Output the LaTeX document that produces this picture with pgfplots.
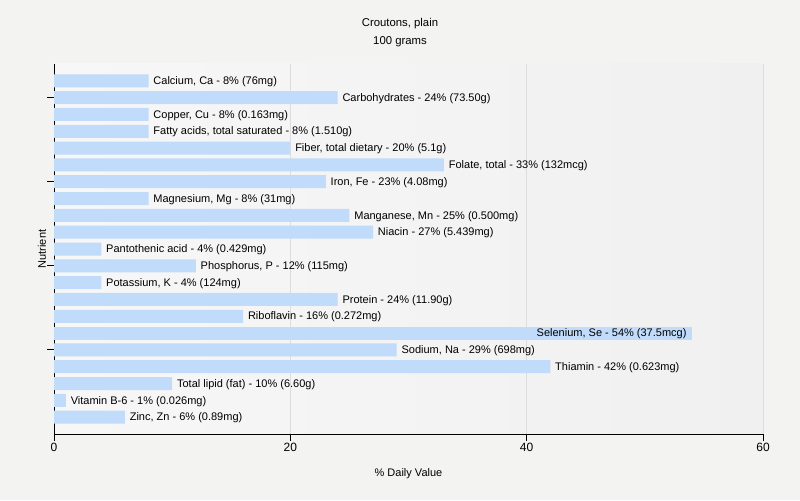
\documentclass[border=0pt]{standalone}
\usepackage{fontspec}
\setmainfont{Liberation Sans}
\usepackage{pgfplots}
\usepackage{pgfplotstable}
\pgfplotsset{compat=1.18}
\definecolor{barblue}{RGB}{193,219,250}
\definecolor{outerbg}{RGB}{243,243,242}
\definecolor{gridc}{RGB}{221,221,221}
\definecolor{plotleft}{RGB}{247,247,247}
\definecolor{plotright}{RGB}{240,240,240}

\pgfplotstableread[col sep=semicolon]{
idx;val;label
0;8;Calcium, Ca - 8\% (76mg)
1;24;Carbohydrates - 24\% (73.50g)
2;8;Copper, Cu - 8\% (0.163mg)
3;8;Fatty acids, total saturated - 8\% (1.510g)
4;20;Fiber, total dietary - 20\% (5.1g)
5;33;Folate, total - 33\% (132mcg)
6;23;Iron, Fe - 23\% (4.08mg)
7;8;Magnesium, Mg - 8\% (31mg)
8;25;Manganese, Mn - 25\% (0.500mg)
9;27;Niacin - 27\% (5.439mg)
10;4;Pantothenic acid - 4\% (0.429mg)
11;12;Phosphorus, P - 12\% (115mg)
12;4;Potassium, K - 4\% (124mg)
13;24;Protein - 24\% (11.90g)
14;16;Riboflavin - 16\% (0.272mg)
16;29;Sodium, Na - 29\% (698mg)
17;42;Thiamin - 42\% (0.623mg)
18;10;Total lipid (fat) - 10\% (6.60g)
19;1;Vitamin B-6 - 1\% (0.026mg)
20;6;Zinc, Zn - 6\% (0.89mg)
}\maindata

\pgfplotstableread[col sep=semicolon]{
idx;val;label
15;54;Selenium, Se - 54\% (37.5mcg)
}\seldata

\begin{document}
\begin{tikzpicture}[x=1pt,y=1pt]
\path[use as bounding box, fill=outerbg] (0,0) rectangle (600,375);
\shade[left color=plotleft, middle color=white, right color=plotright] (40.5,49.5) rectangle (572.25,327);
\node[font=\fontsize{8.5}{10}\selectfont] at (300,357.5) {Croutons, plain};
\node[font=\fontsize{8.5}{10}\selectfont] at (300,344) {100 grams};
\begin{axis}[
  at={(40.5pt,49.5pt)}, anchor=south west,
  width=531.75pt, height=277.5pt, scale only axis,
  xmin=0, xmax=60, ymin=-1, ymax=21, y dir=reverse,
  xbar, bar width=9.75pt, bar shift=0pt,
  axis x line*=bottom, axis y line*=left,
  axis line style={black, line width=0.75pt},
  tick align=outside, major tick length=5.25pt,
  tick style={black, line width=0.75pt},
  xtick={0,20,40,60},
  ytick={1,6,11,16}, yticklabels={},
  xmajorgrids, grid style={gridc, line width=0.75pt},
  xticklabel style={font=\fontsize{9}{10}\selectfont, yshift=2pt, /pgf/number format/assume math mode=true},
  xlabel={\% Daily Value}, ylabel={Nutrient},
  label style={font=\fontsize{8.25}{10}\selectfont},
  xlabel style={at={(axis description cs:0.5,-0.1068)}, anchor=center},
  ylabel style={at={(axis description cs:-0.01693,0.5)}, anchor=center},
  point meta=explicit symbolic,
  clip=false,
]
\addplot[fill=barblue, draw=none, nodes near coords,
  every node near coord/.append style={anchor=west, inner sep=0pt, xshift=3.5pt, yshift=-0.6pt, font=\fontsize{8.25}{10}\selectfont, text=black}]
  table[x=val, y=idx, meta=label] {\maindata};
\addplot[fill=barblue, draw=none, nodes near coords,
  every node near coord/.append style={anchor=east, inner sep=0pt, xshift=-4pt, yshift=-0.6pt, font=\fontsize{8.25}{10}\selectfont, text=black}]
  table[x=val, y=idx, meta=label] {\seldata};
\end{axis}
\end{tikzpicture}
\end{document}
